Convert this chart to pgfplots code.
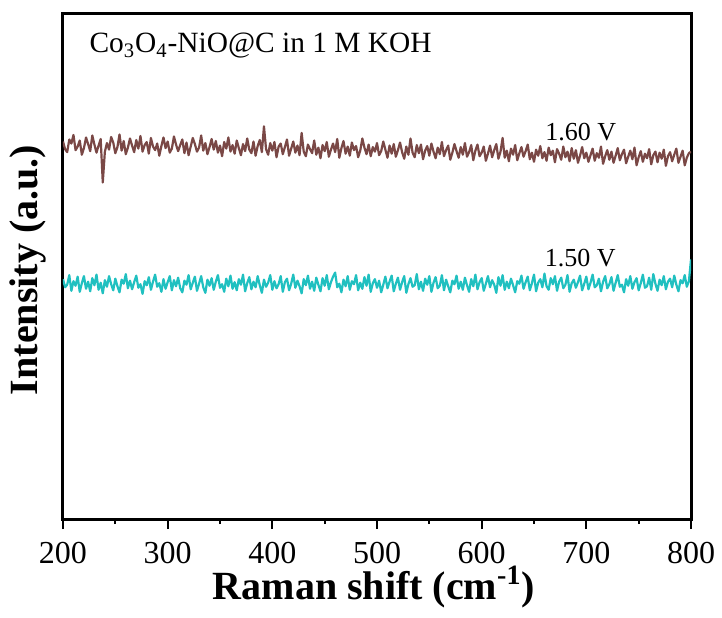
\documentclass[border=0pt]{standalone}
\usepackage{pgfplots}
\pgfplotsset{compat=1.18}
\usepackage{fontspec}
\setmainfont{Liberation Serif}
\definecolor{brownline}{RGB}{122,72,70}
\definecolor{cyanline}{RGB}{32,192,192}
\begin{document}
\begin{tikzpicture}
\begin{axis}[
  scale only axis,
  width=314pt, height=253pt,
  xmin=200, xmax=800, ymin=0, ymax=100,
  xtick={200,300,400,500,600,700,800},
  minor x tick num=1,
  ytick=\empty,
  xtick pos=bottom,
  tick align=outside,
  major tick length=5pt,
  minor tick length=2.5pt,
  every tick/.style={line width=1pt, black},
  axis line style={line width=1.5pt},
  /pgf/number format/assume math mode=true,
  /pgf/number format/1000 sep={},
  xticklabel style={font=\fontsize{16}{19}\selectfont, yshift=-3pt},
  xlabel={Raman shift (cm\textsuperscript{-1})},
  ylabel={Intensity (a.u.)},
  xlabel style={font=\fontsize{20}{24}\selectfont\bfseries, at={(axis description cs:0.495,-0.160)}, anchor=base},
  ylabel style={font=\fontsize{20}{24}\selectfont\bfseries, at={(axis description cs:-0.0557,0.492)}, anchor=center},
]
\addplot[brownline, line width=1.1pt, line join=round] coordinates {
(200,74.6) (202,73.1) (204,72.5) (206,75.0) (208,74.2) (210,75.9) (212,72.9) (214,73.6) (216,74.8) (218,72.0)
(220,73.3) (222,75.4) (224,74.1) (226,72.7) (228,75.8) (230,74.0) (232,72.4) (234,73.8) (236,75.1) (238,66.5)
(240,72.6) (242,74.3) (244,73.0) (246,75.5) (248,74.4) (250,72.3) (252,73.5) (254,76.0) (256,72.8) (258,74.7)
(260,72.1) (262,73.4) (264,75.2) (266,73.8) (268,72.5) (270,74.9) (272,73.2) (274,75.7) (276,72.6) (278,73.9)
(280,74.5) (282,72.2) (284,75.3) (286,73.6) (288,72.9) (290,74.2) (292,71.8) (294,73.7) (296,75.4) (298,73.3)
(300,74.6) (302,72.4) (304,73.2) (306,75.6) (308,74.0) (310,72.7) (312,73.9) (314,75.0) (316,72.3) (318,74.4)
(320,71.9) (322,73.6) (324,75.3) (326,74.1) (328,72.6) (330,73.4) (332,75.8) (334,72.8) (336,74.3) (338,72.1)
(340,73.5) (342,75.1) (344,73.0) (346,74.7) (348,72.4) (350,73.8) (352,71.7) (354,74.5) (356,73.2) (358,75.4)
(360,72.6) (362,73.9) (364,72.2) (366,74.8) (368,73.3) (370,71.9) (372,74.1) (374,72.7) (376,75.2) (378,73.0)
(380,72.3) (382,74.6) (384,71.8) (386,73.7) (388,74.9) (390,72.5) (392,77.6) (394,73.1) (396,72.0) (398,74.3)
(400,72.8) (402,74.5) (404,71.5) (406,73.6) (408,74.2) (410,72.1) (412,73.5) (414,75.0) (416,71.8) (418,73.2)
(420,74.6) (422,72.4) (424,73.8) (426,71.9) (428,76.3) (430,72.6) (432,71.7) (434,74.0) (436,73.1) (438,72.3)
(440,74.8) (442,72.0) (444,73.4) (446,71.3) (448,73.9) (450,72.7) (452,74.5) (454,71.6) (456,73.0) (458,74.2)
(460,72.5) (462,75.1) (464,71.4) (466,73.3) (468,74.7) (470,72.2) (472,73.6) (474,71.8) (476,74.4) (478,72.9)
(480,73.7) (482,71.5) (484,72.8) (486,75.2) (488,73.4) (490,72.1) (492,74.0) (494,71.7) (496,73.5) (498,72.6)
(500,74.3) (502,71.9) (504,72.7) (506,74.6) (508,73.0) (510,71.4) (512,73.8) (514,72.2) (516,74.1) (518,71.6)
(520,72.9) (522,74.4) (524,72.5) (526,71.2) (528,73.6) (530,72.0) (532,75.2) (534,72.4) (536,71.5) (538,73.9)
(540,72.3) (542,74.0) (544,71.1) (546,72.8) (548,73.7) (550,71.8) (552,74.2) (554,72.6) (556,71.3) (558,73.4)
(560,72.1) (562,74.5) (564,71.7) (566,72.9) (568,73.8) (570,71.0) (572,72.4) (574,74.1) (576,72.7) (578,71.4)
(580,73.5) (582,72.0) (584,74.3) (586,71.6) (588,72.5) (590,73.9) (592,70.9) (594,72.8) (596,74.0) (598,71.7)
(600,72.4) (602,73.6) (604,70.8) (606,72.2) (608,73.8) (610,71.5) (612,72.9) (614,74.1) (616,71.2) (618,72.6)
(620,75.3) (622,71.4) (624,72.8) (626,70.7) (628,73.2) (630,72.0) (632,73.9) (634,70.9) (636,72.3) (638,73.5)
(640,71.6) (642,72.7) (644,74.0) (646,71.1) (648,72.4) (650,70.6) (652,73.0) (654,71.8) (656,73.7) (658,71.3)
(660,72.5) (662,70.8) (664,73.4) (666,71.9) (668,72.8) (670,70.5) (672,73.1) (674,72.2) (676,71.0) (678,73.6)
(680,71.5) (682,72.6) (684,70.7) (686,73.3) (688,71.2) (690,72.9) (692,70.4) (694,71.8) (696,73.5) (698,71.3)
(700,72.4) (702,70.6) (704,71.9) (706,73.2) (708,70.8) (710,72.3) (712,71.4) (714,73.6) (716,70.2) (718,71.7)
(720,72.9) (722,71.0) (724,72.6) (726,70.4) (728,71.8) (730,73.3) (732,70.9) (734,72.1) (736,73.0) (738,70.3)
(740,71.6) (742,72.8) (744,71.1) (746,73.4) (748,69.9) (750,71.5) (752,72.7) (754,70.6) (756,72.2) (758,71.3)
(760,73.1) (762,70.1) (764,71.9) (766,72.6) (768,70.5) (770,72.4) (772,71.2) (774,73.0) (776,69.8) (778,71.7)
(780,72.5) (782,70.7) (784,72.0) (786,73.2) (788,70.4) (790,71.6) (792,72.8) (794,69.9) (796,71.4) (798,72.3)
(800,72.6)
};
\addplot[cyanline, line width=1.1pt, line join=round] coordinates {
(200,47.4) (202,45.8) (204,46.3) (206,48.2) (208,45.1) (210,47.0) (212,46.1) (214,47.9) (216,44.9) (218,46.6)
(220,48.0) (222,45.5) (224,46.9) (226,45.0) (228,47.6) (230,46.2) (232,48.3) (234,45.3) (236,46.7) (238,44.6)
(240,47.2) (242,45.9) (244,48.0) (246,46.4) (248,45.2) (250,47.5) (252,46.0) (254,44.8) (256,47.3) (258,46.5)
(260,48.4) (262,45.6) (264,47.1) (266,45.4) (268,46.8) (270,48.1) (272,45.7) (274,46.4) (276,44.5) (278,47.0)
(280,46.2) (282,47.8) (284,45.3) (286,46.9) (288,48.3) (290,45.9) (292,46.6) (294,44.9) (296,47.4) (298,45.5)
(300,46.8) (302,48.0) (304,45.2) (306,47.2) (308,46.0) (310,47.7) (312,45.6) (314,44.8) (316,47.1) (318,46.3)
(320,48.2) (322,45.4) (324,46.7) (326,47.9) (328,45.1) (330,46.5) (332,48.0) (334,45.8) (336,44.7) (338,47.3)
(340,46.1) (342,47.6) (344,45.3) (346,46.9) (348,48.2) (350,45.7) (352,46.4) (354,44.9) (356,47.5) (358,46.0)
(360,48.1) (362,45.5) (364,46.8) (366,45.2) (368,47.4) (370,46.3) (372,48.3) (374,45.0) (376,46.6) (378,47.8)
(380,45.4) (382,46.9) (384,45.8) (386,48.0) (388,46.2) (390,44.7) (392,47.3) (394,45.9) (396,46.7) (398,48.2)
(400,45.3) (402,47.0) (404,45.6) (406,46.4) (408,48.0) (410,44.9) (412,46.8) (414,47.5) (416,45.2) (418,46.5)
(420,48.3) (422,45.7) (424,47.1) (426,46.0) (428,44.6) (430,47.4) (432,46.2) (434,48.1) (436,45.5) (438,46.9)
(440,45.1) (442,47.7) (444,46.3) (446,45.0) (448,47.6) (450,46.1) (452,48.2) (454,45.4) (456,46.8) (458,47.9)
(460,48.7) (462,45.8) (464,46.5) (466,44.8) (468,47.3) (470,46.0) (472,48.0) (474,45.3) (476,47.0) (478,46.4)
(480,48.2) (482,45.2) (484,46.7) (486,45.5) (488,47.8) (490,46.1) (492,48.3) (494,44.9) (496,46.6) (498,47.4)
(500,45.7) (502,47.1) (504,44.8) (506,46.3) (508,47.9) (510,45.6) (512,46.9) (514,48.1) (516,45.0) (518,46.5)
(520,47.7) (522,45.3) (524,46.8) (526,48.0) (528,44.7) (530,46.4) (532,47.6) (534,45.9) (536,46.2) (538,48.4)
(540,45.4) (542,46.9) (544,45.1) (546,47.5) (548,46.3) (550,48.0) (552,44.9) (554,46.7) (556,47.8) (558,45.6)
(560,46.1) (562,48.2) (564,45.2) (566,47.3) (568,46.0) (570,44.8) (572,47.1) (574,46.4) (576,48.1) (578,45.5)
(580,46.9) (582,45.3) (584,47.7) (586,46.2) (588,44.9) (590,47.4) (592,46.0) (594,48.3) (596,45.4) (598,46.8)
(600,47.6) (602,45.1) (604,46.5) (606,48.0) (608,45.8) (610,47.2) (612,46.3) (614,44.7) (616,47.8) (618,46.1)
(620,48.2) (622,45.3) (624,46.9) (626,45.6) (628,47.5) (630,46.2) (632,44.8) (634,47.0) (636,46.5) (638,48.1)
(640,45.5) (642,46.8) (644,47.9) (646,45.2) (648,46.6) (650,48.3) (652,45.0) (654,46.7) (656,47.4) (658,45.8)
(660,48.5) (662,46.0) (664,45.3) (666,47.6) (668,46.4) (670,48.0) (672,45.1) (674,46.9) (676,47.7) (678,45.6)
(680,46.3) (682,48.2) (684,44.9) (686,46.6) (688,47.3) (690,45.7) (692,46.8) (694,48.1) (696,45.2) (698,46.5)
(700,47.9) (702,45.4) (704,46.7) (706,48.3) (708,45.8) (710,46.2) (712,47.5) (714,45.0) (716,46.9) (718,48.0)
(720,45.6) (722,46.4) (724,47.8) (726,45.1) (728,46.7) (730,48.2) (732,45.9) (734,46.3) (736,44.8) (738,47.4)
(740,46.1) (742,48.0) (744,45.5) (746,46.8) (748,47.6) (750,45.2) (752,46.6) (754,48.3) (756,45.7) (758,46.0)
(760,47.7) (762,45.3) (764,48.4) (766,46.5) (768,45.1) (770,47.3) (772,46.2) (774,48.0) (776,45.4) (778,46.9)
(780,47.5) (782,45.8) (784,48.1) (786,46.3) (788,45.0) (790,47.2) (792,46.6) (794,48.2) (796,45.9) (798,47.0)
(800,51.3)
};
\node[anchor=base west, inner sep=0pt, font=\fontsize{14.7}{17}\selectfont] at (axis cs:225,92.1) {Co\textsubscript{3}O\textsubscript{4}-NiO@C in 1 M KOH};
\node[anchor=base west, inner sep=0pt, font=\fontsize{13}{15}\selectfont] at (axis cs:660.5,74.9) {1.60 V};
\node[anchor=base west, inner sep=0pt, font=\fontsize{13}{15}\selectfont] at (axis cs:660,50.0) {1.50 V};
\end{axis}
\pgfresetboundingbox
\path[use as bounding box] ([shift={(-31.5pt,-49pt)}]current axis.south west) rectangle ++(361pt,308.5pt);
\end{tikzpicture}
\end{document}
